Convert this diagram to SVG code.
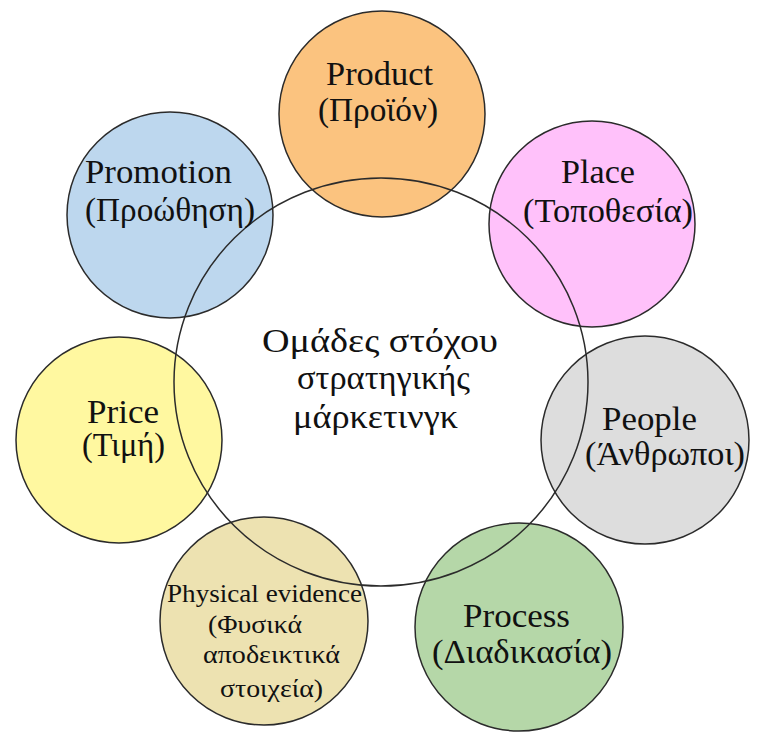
<svg xmlns="http://www.w3.org/2000/svg" width="757" height="732" viewBox="0 0 757 732">
<style>
.c{stroke:#2b2b2b;stroke-width:1.5}
.t{font-family:"Liberation Serif","Times New Roman",serif;font-size:33px;fill:#111}
.s{font-family:"Liberation Serif","Times New Roman",serif;font-size:26px;fill:#111}
</style>
<rect width="757" height="732" fill="#ffffff"/>
<g id="product"><circle class="c" cx="382" cy="114" r="103" fill="#FBC37F"/></g>
<g id="promotion"><circle class="c" cx="170" cy="215" r="103" fill="#BDD7EE"/></g>
<g id="place"><circle class="c" cx="592" cy="224" r="103" fill="#FFC1FA"/></g>
<g id="price"><circle class="c" cx="119" cy="440" r="103" fill="#FFF8A0"/></g>
<g id="people"><circle class="c" cx="645" cy="440" r="104" fill="#DDDDDD"/></g>
<g id="physical"><circle class="c" cx="264" cy="621" r="104" fill="#EDE2B1"/></g>
<g id="process"><circle class="c" cx="519" cy="627" r="104" fill="#B5D7A8"/></g>
<g id="center"><ellipse class="c" cx="381" cy="382" rx="207" ry="204" fill="none"/></g>
<g id="connectors"></g>
<g id="labels">
<text class="t" x="326" y="85" textLength="107" lengthAdjust="spacingAndGlyphs">Product</text>
<text class="t" x="318" y="121" textLength="120" lengthAdjust="spacingAndGlyphs">(Προϊόν)</text>
<text class="t" x="85" y="183" textLength="147" lengthAdjust="spacingAndGlyphs">Promotion</text>
<text class="t" x="85" y="221" textLength="170" lengthAdjust="spacingAndGlyphs">(Προώθηση)</text>
<text class="t" x="561" y="183" textLength="74" lengthAdjust="spacingAndGlyphs">Place</text>
<text class="t" x="523" y="222" textLength="170" lengthAdjust="spacingAndGlyphs">(Τοποθεσία)</text>
<text class="t" x="87" y="423" textLength="72" lengthAdjust="spacingAndGlyphs">Price</text>
<text class="t" x="82" y="456" textLength="83" lengthAdjust="spacingAndGlyphs">(Τιμή)</text>
<text class="t" x="602" y="430" textLength="95" lengthAdjust="spacingAndGlyphs">People</text>
<text class="t" x="585" y="465" textLength="160" lengthAdjust="spacingAndGlyphs">(Άνθρωποι)</text>
<text class="t" x="463" y="627" textLength="107" lengthAdjust="spacingAndGlyphs">Process</text>
<text class="t" x="432" y="663" textLength="180" lengthAdjust="spacingAndGlyphs">(Διαδικασία)</text>
<text class="s" x="167" y="602" textLength="195" lengthAdjust="spacingAndGlyphs">Physical evidence</text>
<text class="s" x="208" y="633" textLength="94" lengthAdjust="spacingAndGlyphs">(Φυσικά</text>
<text class="s" x="203" y="663" textLength="137" lengthAdjust="spacingAndGlyphs">αποδεικτικά</text>
<text class="s" x="220" y="697" textLength="103" lengthAdjust="spacingAndGlyphs">στοιχεία)</text>
<text class="t" x="262" y="352" textLength="236" lengthAdjust="spacingAndGlyphs">Ομάδες στόχου</text>
<text class="t" x="297" y="389" textLength="173" lengthAdjust="spacingAndGlyphs">στρατηγικής</text>
<text class="t" x="293" y="428" textLength="165" lengthAdjust="spacingAndGlyphs">μάρκετινγκ</text>
</g>
</svg>
